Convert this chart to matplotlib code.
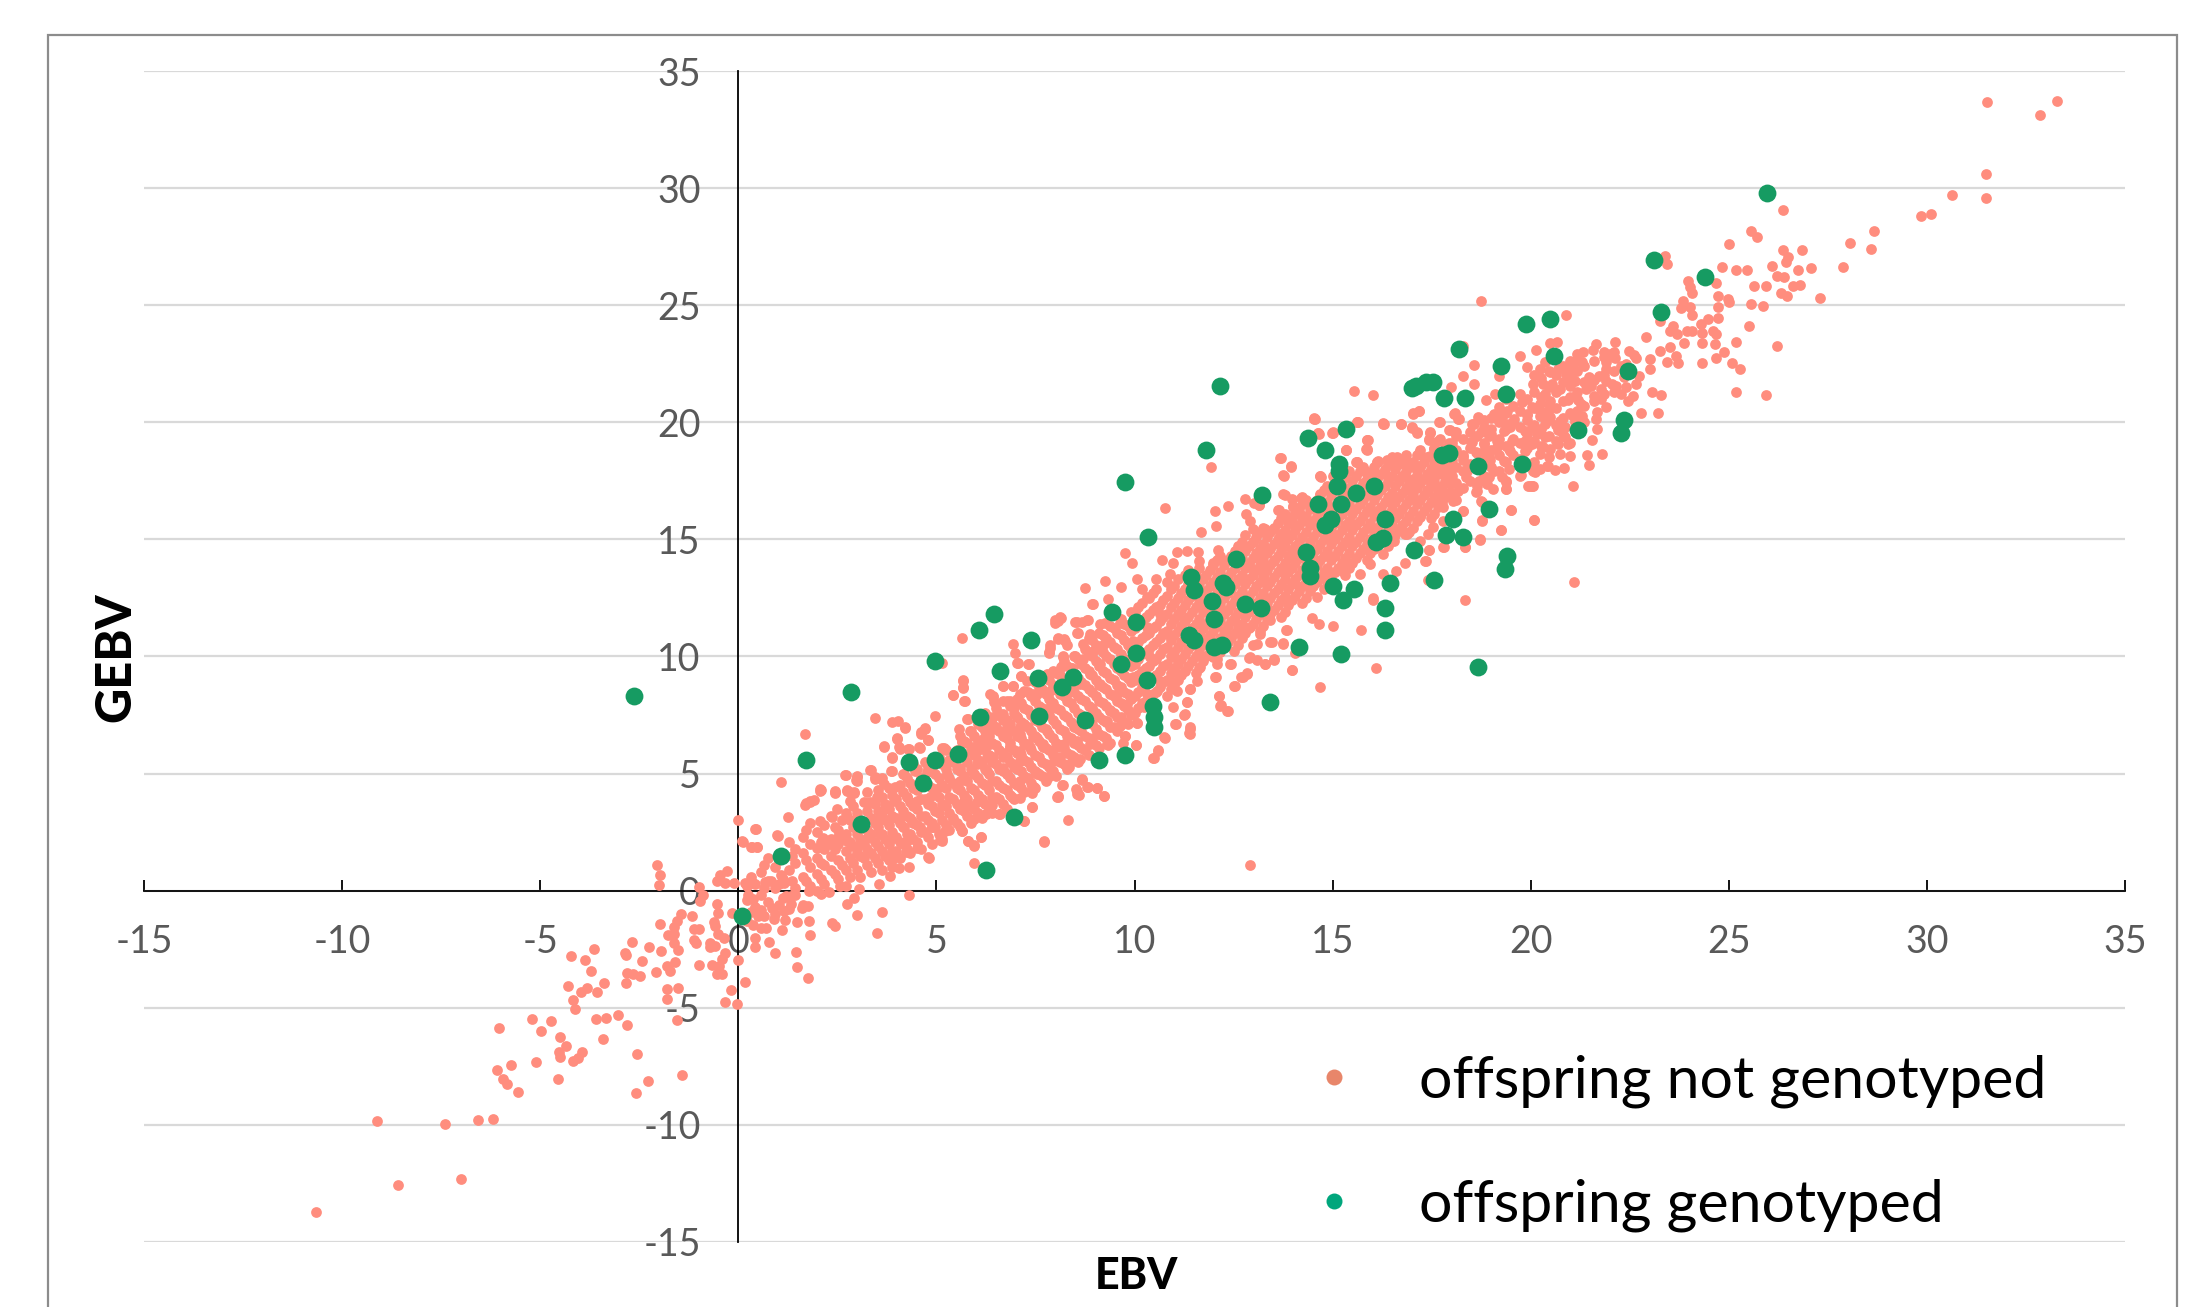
#!/usr/bin/env python3

import matplotlib
matplotlib.use("Agg")
import matplotlib.pyplot as plt
from matplotlib.lines import Line2D
from matplotlib.patches import Rectangle

# values, (EBV, GEBV)

genotyped = [
	(-2.64,8.3),(0.09,-1.1),(1.08,1.47),(1.72,5.6),(2.85,8.5),(3.1,2.85),(4.3,5.5),(4.65,4.6),(4.97,5.6),(4.97,9.8),
	(5.54,5.85),(6.1,7.4),(6.07,11.15),(6.46,11.8),(6.25,0.88),(6.6,9.4),(6.96,3.15),(7.38,10.7),(7.56,9.07),(7.6,7.46),
	(8.16,8.7),(8.44,9.14),(8.76,7.28),(9.1,5.6),(9.43,11.9),(9.65,9.67),(9.75,17.45),(9.75,5.78),(10.03,11.47),(10.03,10.15),
	(10.35,15.1),(10.32,9.0),(10.46,7.87),(10.5,7.4),(10.5,7.0),(11.42,13.4),(11.49,12.85),(11.38,10.93),(11.49,10.7),(11.8,18.8),
	(11.95,12.37),(12.0,11.6),(12.0,10.4),(12.2,10.5),(12.16,21.55),(12.23,13.15),(12.3,12.95),(12.55,14.15),(12.8,12.25),(13.19,12.07),
	(13.22,16.9),(13.43,8.05),(14.14,10.4),(14.32,14.45),(14.39,19.35),(14.43,13.8),(14.43,13.45),(14.64,16.5),(14.8,18.8),(14.82,15.6),
	(14.95,15.85),(15.0,13.0),(15.17,18.2),(15.17,17.9),(15.1,17.3),(15.2,16.5),(15.2,10.1),(15.27,12.4),(15.35,19.7),(15.55,12.9),
	(15.6,17.0),(16.05,17.3),(16.1,14.9),(16.27,15.05),(16.33,15.85),(16.33,12.07),(16.33,11.15),(16.44,13.15),(17.0,21.45),(17.1,21.55),
	(17.36,21.7),(17.54,21.7),(17.05,14.55),(17.57,13.25),(17.8,21.05),(17.75,18.6),(17.93,18.7),(17.86,15.2),(18.03,15.85),(18.28,15.1),
	(18.18,23.15),(18.35,21.05),(18.67,18.15),(18.67,9.55),(18.96,16.3),(19.24,22.4),(19.38,21.2),(19.35,13.75),(19.4,14.3),(19.77,18.2),
	(19.88,24.2),(20.48,24.4),(20.58,22.85),(21.2,19.65),(22.28,19.55),(22.36,20.1),(22.46,22.2),(23.1,26.95),(23.3,24.7),(24.4,26.2),
	(25.97,29.8),
]

low_tail = [
	(-10.67,-13.7),(-8.58,-12.56),(-7.01,-12.3),(-9.11,-9.85),(-7.4,-9.98),(-6.58,-9.8),(-6.19,-9.75),(-5.55,-8.6),(-5.84,-8.27),(-5.93,-8.05),
	(-6.1,-7.65),(-5.73,-7.45),(-5.1,-7.3),(-6.05,-5.87),(-5.21,-5.47),(-4.97,-5.98),(-4.74,-5.56),(-4.5,-6.24),(-4.35,-6.65),(-4.53,-6.87),
	(-4.5,-7.1),(-4.54,-8.02),(-4.18,-7.29),(-4.04,-7.13),(-3.94,-6.9),(-3.42,-6.33),(-3.59,-5.49),(-3.35,-5.42),(-3.04,-5.31),(-2.81,-5.73),
	(-2.55,-6.98),(-2.27,-8.13),(-2.57,-8.65),(-1.42,-7.89),(-1.54,-5.5),(-4.13,-5.04),(-4.16,-4.65),(-4.29,-4.07),(-3.96,-4.33),(-3.82,-4.16),
	(-3.57,-4.33),(-3.38,-3.96),(-3.71,-3.45),(-3.87,-2.96),(-4.21,-2.78),(-3.63,-2.47),(-2.86,-2.67),(-2.83,-2.73),(-2.68,-2.18),(-2.25,-2.42),
	(-2.43,-3.0),(-1.94,-2.56),(-2.81,-3.53),(-2.65,-3.56),(-2.48,-3.65),(-2.84,-3.95),(-2.08,-3.47),(-1.81,-3.22),(-1.72,-3.45),(-1.6,-3.04),
	(-1.81,-4.18),(-1.51,-4.15),(-1.79,-4.64),(-0.98,-3.18),(-0.18,-4.22),(0.18,-3.89),(-0.33,-4.75),(-0.03,-4.82),(-0.53,-3.55),(-0.4,-3.56),
	(-0.66,-3.18),(-0.48,-3.22),(-0.4,-2.91),(-0.33,-2.64),(-0.01,-2.98),(-0.72,-2.4),(-0.59,-2.36),(-0.71,-2.22),(-1.52,-2.55),(-1.63,-2.24),
	(-1.11,-2.09),(-1.06,-2.22),(-1.78,-1.91),(-1.62,-1.85),(-1.97,-1.44),(-1.63,-1.56),(-1.54,-1.31),(-1.45,-1.0),(-1.17,-1.07),(-1.11,-1.64),
	(-0.98,-1.62),(-0.62,-1.33),(-0.53,-0.55),(-0.5,-0.96),(-0.59,-1.51),(-0.5,-1.85),(-0.37,-2.0),(-0.17,-0.95),(-0.97,-0.45),(-0.89,-0.18),
	(-0.98,0.15),(-2.01,0.25),(-1.97,0.67),(-2.05,1.11),(-0.54,0.4),(-0.46,0.67),(-0.28,0.84),(-0.33,0.31),(-0.1,0.31),(-0.01,3.04),
	(0.1,2.13),(0.44,2.65),(0.33,1.87),(0.48,1.87),(0.98,2.38),(1.26,3.13),(1.69,6.67),(1.08,4.65),(1.7,3.75),(1.81,3.82),
	(1.92,3.89),(2.07,4.33),(2.43,4.24),(2.7,4.96),(2.97,4.73),(3.0,4.91),(2.74,4.31),(2.92,4.22),(3.5,-1.82),(3.63,-0.91),
	(3.0,-1.04),(2.43,-1.49),(2.36,-1.36),(2.74,-0.55),(2.91,-0.31),(1.81,-1.89),(1.78,-1.29),(1.75,-3.73),(1.48,-3.24),(1.45,-2.62),
	(0.93,-2.67),(0.77,-2.2),(0.42,-2.4),(0.42,-2.04),(0.69,-1.58),(1.11,-1.69),(0.89,-1.22),(1.17,-1.27),(1.47,-1.35),(0.57,-0.84),
	(0.85,-0.73),(1.15,-0.85),(0.37,-1.45),(0.5,-1.09),(1.6,-0.76),(1.76,-0.67),(1.34,-0.55),(1.21,-0.24),(0.37,-0.36),(0.24,-0.18),
	(0.18,0.33),(0.37,0.33),(0.67,0.36),(0.82,0.4),(1.08,0.69),(1.15,0.31),(1.34,-0.24),(1.79,0.0),(2.08,-0.13),(2.28,-0.07),
	(3.05,0.09),(2.56,0.22),
]

band_edges = [
	(0.43,2.62),(0.12,2.1),(0.34,1.85),(0.47,1.85),(0.99,2.35),(1.69,3.67),(1.8,3.77),(2.09,4.3),(2.45,4.2),(2.72,4.92),
	(2.99,4.84),(2.99,4.67),(2.82,4.2),(3.46,7.38),(3.89,7.2),(4.02,7.23),(4.2,6.94),(4.01,6.49),(3.69,6.15),(3.88,5.68),
	(3.34,5.16),(3.44,4.84),(3.87,5.12),(3.61,4.77),(3.54,3.98),(4.06,6.12),(4.28,6.05),(4.57,6.12),(4.62,6.71),(4.71,6.9),
	(4.79,6.43),(4.97,7.44),(5.13,9.74),(5.65,10.8),(5.43,8.36),(5.68,8.99),(5.67,8.65),(5.72,8.08),(5.58,6.9),(5.81,7.33),
	(5.84,6.83),(5.64,6.4),(5.21,6.05),(6.94,10.53),(6.99,10.17),(7.05,9.72),(7.14,9.17),(7.33,9.67),(6.69,8.75),(6.93,8.75),
	(6.43,8.32),(6.46,8.04),(8.0,11.42),(8.15,11.66),(8.06,11.52),(7.87,10.38),(7.84,10.17),(8.06,10.78),(8.23,10.74),(8.29,10.48),
	(8.2,9.99),(8.15,9.57),(8.42,9.49),(8.74,12.94),(9.25,13.23),(9.65,12.97),(8.94,12.26),(9.32,12.45),(8.51,11.49),(8.68,11.49),
	(8.83,11.55),(8.57,11.0),(9.25,11.45),(9.77,14.4),(9.94,13.98),(10.77,16.34),(10.69,14.11),(10.54,13.3),(10.06,13.3),(10.2,12.87),
	(10.32,12.52),(11.08,14.48),(11.33,14.52),(10.96,13.98),(11.61,14.47),(11.67,15.32),(11.92,18.11),(12.02,16.22),(12.36,16.44),(12.05,15.58),
	(12.12,14.55),(11.97,14.01),(11.63,14.08),(10.9,13.51),(12.8,16.71),(12.82,16.07),(13.02,16.57),(13.13,16.47),(13.64,16.26),(13.7,18.46),
	(13.96,18.11),(13.78,17.71),(13.81,16.9),(13.9,15.93),(14.01,16.39),(14.2,16.78),(14.55,20.16),(14.65,19.49),(15.0,19.53),(15.64,20.03),
	(16.29,19.94),(15.9,19.23),(15.86,18.8),(15.34,18.8),(15.61,18.31),(14.71,17.68),(15.84,17.89),(4.31,-0.18),(3.55,0.28),(3.83,0.64),
	(4.81,1.39),(4.06,0.95),(4.31,1.0),(4.23,1.64),(3.89,1.31),(5.96,1.17),(5.81,2.13),(6.12,2.3),(5.94,1.92),(5.13,2.13),
	(4.9,2.7),(5.64,2.56),(7.22,2.99),(7.71,2.1),(8.32,3.02),(7.42,3.58),(6.37,3.63),(6.26,3.27),(6.6,3.27),(8.06,3.98),
	(8.68,4.77),(8.55,4.27),(8.59,4.1),(8.83,4.41),(9.05,4.37),(9.23,4.03),(8.2,4.51),(7.81,4.84),(7.55,5.01),(7.44,4.41),
	(8.34,5.29),(10.48,5.65),(10.6,6.0),(10.03,6.23),(9.33,6.22),(9.75,6.61),(10.77,6.54),(11.39,6.9),(11.39,6.69),(10.07,7.18),
	(11.05,7.11),(11.27,7.54),(11.33,8.04),(12.35,7.68),(12.18,7.94),(12.14,8.32),(11.41,8.6),(12.91,1.11),(12.05,9.13),(12.54,8.75),
	(12.85,9.25),(12.68,9.13),(12.44,9.67),(12.91,9.96),(13.3,9.67),(13.53,9.89),(13.98,9.42),(14.68,8.71),(16.09,9.53),(14.04,10.17),
	(13.75,10.55),(13.84,11.12),(13.47,10.6),(13.08,10.53),(15.02,11.31),(15.72,11.14),(14.49,11.66),(14.66,11.38),(16.03,12.42),(21.1,13.2),
]

high_tail = [
	(31.52,33.66),(33.28,33.72),(32.85,33.1),(31.5,30.59),(31.5,29.59),(30.64,29.7),(30.11,28.89),(29.85,28.82),(28.66,28.18),(28.06,27.65),
	(28.6,27.38),(27.88,26.63),(26.37,29.08),(25.56,28.18),(25.71,27.93),(25.0,27.63),(26.36,27.37),(26.85,27.34),(26.49,27.04),(26.45,26.83),
	(26.09,26.69),(26.75,26.52),(27.07,26.57),(26.22,26.26),(26.39,26.19),(25.63,25.82),(25.95,25.82),(26.61,25.83),(26.8,25.88),(26.32,25.53),
	(26.46,25.41),(27.3,25.32),(24.84,26.64),(25.17,26.49),(25.45,26.49),(25.56,25.06),(25.86,24.98),(25.51,24.12),(26.22,23.24),(25.19,23.41),
	(25.18,21.31),(25.95,21.15),(24.87,22.99),(25.07,22.55),(25.28,22.26),(24.68,22.73),(24.32,22.53),(23.39,27.11),(23.45,26.76),(23.97,26.05),
	(24.03,25.76),(24.08,25.52),(24.68,25.93),(24.74,25.38),(24.97,25.26),(25.01,25.12),(24.74,24.91),(23.84,25.19),(23.79,24.86),(24.01,24.91),
	(24.08,24.58),(23.27,24.34),(24.72,24.44),(24.48,24.41),(24.31,24.2),(23.6,24.12),(23.52,23.88),(23.68,23.77),(23.94,23.88),(24.07,23.91),
	(24.61,23.91),(24.33,23.8),(24.68,23.77),(24.64,23.34),(24.32,23.37),(23.86,23.4),(22.91,23.63),(22.14,23.44),(23.26,23.03),(23.52,23.2),
	(23.67,22.84),(22.67,22.73),(23.0,22.7),(23.71,22.52),(23.0,22.27),(23.45,22.56),(18.75,25.16),(20.9,24.59),(20.66,23.44),(20.49,23.37),
	(20.14,23.1),(19.72,22.84),(19.91,22.35),(18.58,22.46),(18.3,23.27),(18.3,21.99),(19.2,21.99),(17.99,21.52),(18.58,21.63),(15.55,21.32),
	(16.01,21.16),(18.87,20.94),(19.1,21.21),(19.78,20.88),(14.54,20.15),(15.62,20.03),(15.0,19.57),(14.63,19.53),(16.28,19.94),(16.72,19.93),
	(17.17,20.47),(17.04,20.35),(17.68,20.0),(18.09,20.38),(18.17,20.14),(17.0,19.78),(17.12,19.57),(17.46,19.57),(17.44,19.29),(17.94,19.67),
	(18.11,19.6),(15.88,19.26),(15.85,18.86),(15.34,18.82),(15.6,18.29),(14.69,17.69),(16.14,18.36),(16.5,18.5),(16.82,18.29),(15.83,17.9),
	(17.2,18.64),(17.55,18.86),(17.72,19.29),(18.49,19.14),(22.65,21.63),(22.73,21.99),(22.59,21.11),(22.45,20.92),(23.07,21.28),(23.3,21.15),
	(22.78,20.38),(23.21,20.38),(21.91,20.64),(21.67,20.42),(21.65,20.14),(21.68,19.71),(21.55,19.26),(21.8,18.64),(21.42,18.62),(21.47,18.17),
	(20.98,18.57),(20.85,18.05),(20.62,17.96),(20.44,18.13),(21.08,17.26),(20.04,17.29),(19.94,17.29),(19.74,17.72),(20.1,17.89),(19.5,16.25),
	(20.09,15.83),(19.24,15.4),(18.78,15.8),(18.73,14.99),(18.34,14.66),(17.79,14.66),(17.43,14.56),(17.34,14.09),(19.37,17.15),(19.37,17.48),
	(18.62,17.01),(18.75,16.65),
]

upper_cloud = [
	(21.33,22.99),(21.56,23.09),(21.66,23.34),(21.84,22.99),(21.99,22.91),(22.14,22.73),(21.91,22.56),(21.91,22.27),(22.49,23.06),(22.61,22.89),
	(22.29,22.42),(22.35,21.92),(22.16,21.56),(21.91,21.78),(21.46,21.92),(21.72,21.99),(21.53,21.56),(21.78,21.42),(21.39,21.42),(21.59,21.14),
	(21.78,21.0),(22.29,21.2),(22.04,21.63),(21.3,22.56),(21.13,22.56),(20.93,22.42),(20.68,22.27),(20.49,22.13),(20.36,22.56),(20.23,22.27),
	(21.13,22.2),(20.88,22.06),(21.13,21.78),(20.98,21.56),(20.75,21.42),(20.3,21.63),(20.07,21.63),(20.55,21.63),(20.36,21.21),(20.49,20.92),
	(20.43,20.5),(20.94,20.95),(21.2,20.95),(21.26,20.78),(20.23,20.78),(20.04,20.64),(19.91,20.35),(20.23,20.28),(20.49,20.21),(20.36,19.93),
	(20.75,20.07),(21.07,20.28),(21.3,20.28),(20.87,19.78),(20.68,19.67),(21.13,20.0),(20.04,19.78),(19.85,19.64),(20.17,19.5),(20.36,19.36),
	(19.85,19.21),(19.52,19.21),(19.33,19.64),(19.2,20.64),(19.27,20.28),(19.07,20.35),(19.59,20.14),(19.4,19.93),(19.01,19.71),(18.69,20.14),
	(18.56,19.93),(18.75,19.57),(18.94,19.43),(18.82,19.07),(19.14,18.93),(19.46,18.86),(19.85,18.79),(20.23,18.64),(20.49,18.86),(20.75,18.64),
	(20.94,19.07),(20.87,19.36),(20.68,19.07),(20.04,19.07),(19.72,18.43),(19.33,18.36),(18.94,18.5),(18.62,18.72),(18.3,18.5),(18.04,18.64),
	(18.43,18.15),(19.07,17.93),(19.46,18.0),(19.27,17.65),(18.94,17.65),(18.69,17.5),(18.37,17.65),(18.0,18.22),(17.6,18.15),(17.2,18.15),
	(17.85,17.65),(17.53,17.65),(17.14,17.72),(16.82,17.72),(18.17,17.08),(17.85,16.94),(17.4,17.08),(18.3,16.23),(18.04,16.65),(17.79,16.37),
	(17.79,15.8),(17.53,15.51),(17.4,15.23),(17.2,14.95),(16.82,15.23),(16.5,14.95),
]

# closer reading of the band, lower part
band_lower = [
	(5.77,7.33),(6.1,6.4),(6.44,6.9),(6.61,7.54),(6.44,8.25),(6.69,8.11),(6.95,7.83),(7.2,8.54),(7.53,8.4),(7.11,6.97),
	(6.78,6.76),(6.36,6.26),(6.02,5.97),(6.44,5.69),(6.86,6.12),(7.28,6.26),(7.7,6.12),(7.96,5.55),(7.79,6.83),(7.53,6.54),
	(7.11,5.55),(6.69,5.26),(6.27,5.12),(5.94,4.98),(5.6,4.69),(5.27,4.98),(5.1,4.41),(4.84,3.98),(4.5,3.84),(4.26,3.98),
	(3.96,4.41),(3.71,3.55),(3.5,3.98),(3.58,3.12),(3.33,3.77),(3.92,3.84),(4.09,3.12),(4.38,2.98),(4.59,2.7),(4.26,2.13),
	(4.51,1.84),(3.92,2.27),(4.17,2.7),(3.58,2.41),(3.25,2.27),(2.99,1.84),(2.74,2.13),(2.49,2.27),(2.36,3.13),(2.49,3.48),
	(2.74,3.13),(2.83,3.84),(2.91,4.19),(2.74,4.26),(2.45,4.19),(2.07,4.26),(2.32,1.98),(1.98,1.84),(2.15,2.27),(2.07,2.98),
	(5.94,3.05),(5.64,2.55),(5.43,3.01),(5.22,2.55),(4.89,2.7),(5.1,2.16),(5.81,2.13),(6.12,2.3),(5.94,1.96),(4.8,1.42),
	(5.69,3.84),(6.02,3.77),(5.77,3.7),(6.4,3.65),(6.27,3.3),(6.57,3.27),(6.78,3.48),(7.41,3.58),(6.9,3.98),(7.11,3.95),
	(7.41,4.19),(7.47,4.44),(8.04,4.01),(7.54,5.0),(7.8,4.83),(7.71,2.11),(7.2,2.98),(3.33,5.15),(3.46,4.76),(3.67,4.55),
	(3.63,4.81),(3.85,5.12),(3.88,5.69),(3.68,6.16),(4.0,6.52),(4.07,6.06),(4.3,6.06),(4.58,6.09),(4.2,6.97),(4.62,6.76),
	(4.7,6.93),(4.78,6.43),(5.2,6.09),(5.64,6.37),(5.42,8.37),(5.66,8.68),(5.68,8.97),(5.7,8.08),(4.17,4.98),(4.47,5.12),
	(4.76,5.05),(5.27,5.47),(5.6,5.26),(6.02,5.4),(6.27,5.69),(5.94,6.12),(6.19,6.54),(6.19,7.11),(6.44,7.4),(6.36,8.4),
	(6.68,8.75),(6.93,8.75),(7.03,9.72),(7.31,9.68),(7.13,9.18),(7.8,9.25),(7.96,8.61),(8.12,8.82),(7.87,7.83),(7.53,9.11),
	(7.28,8.97),
]

# closer reading of the band, middle part
band_middle = [
	(8.92,12.25),(8.0,11.54),(8.12,11.68),(8.54,11.46),(8.8,11.56),(9.13,11.39),(9.64,11.42),(8.08,10.75),(8.25,10.68),(8.56,11.01),
	(8.88,10.97),(9.22,10.54),(7.87,10.47),(7.83,10.18),(8.19,10.0),(8.17,9.61),(8.42,9.47),(8.5,10.04),(8.71,9.9),(8.71,10.54),
	(8.96,10.25),(9.13,9.68),(8.88,9.26),(8.63,8.83),(8.29,8.4),(7.87,8.54),(7.45,8.4),(7.11,8.4),(6.86,8.12),(6.69,7.55),
	(7.03,7.4),(6.78,6.98),(7.11,6.69),(7.45,6.55),(7.7,6.26),(7.37,6.12),(7.11,5.98),(6.86,6.12),(6.69,5.7),(7.03,5.41),
	(6.78,4.98),(7.11,4.7),(7.41,4.41),(7.54,5.01),(7.81,4.84),(8.17,4.53),(8.06,4.03),(8.53,4.34),(8.56,4.13),(8.68,4.74),
	(8.81,4.41),(9.05,4.37),(9.23,4.04),(8.29,5.3),(8.42,5.55),(8.63,5.62),(8.12,5.7),(8.04,6.12),(8.21,6.26),(8.54,6.41),
	(8.88,6.26),(9.05,6.69),(9.3,6.26),(9.76,6.62),(9.72,6.29),(10.03,6.24),(10.06,7.16),(9.64,7.05),(9.3,7.26),(8.96,7.69),
	(9.39,7.69),(9.81,7.97),(10.23,7.83),(10.98,7.83),(11.03,7.12),(11.24,7.52),(11.32,8.04),(11.39,6.98),(11.38,6.72),(10.46,5.65),
	(10.59,5.98),(10.74,6.55),(11.4,8.62),(11.07,8.54),(10.9,8.97),(11.57,8.97),(11.15,9.26),(11.66,9.54),(10.56,8.54),(10.65,8.97),
	(10.31,8.4),(12.03,9.14),(12.52,8.76),(12.75,9.14),(12.83,9.28),(12.41,9.68),(12.08,9.68),(11.99,9.97),(12.88,9.94),(13.09,9.83),
	(13.3,9.68),(13.51,9.85),(13.97,9.43),(12.14,8.33),(12.16,7.9),(12.33,7.69),(13.76,10.57),(13.42,10.61),(13.0,10.47),(13.83,11.14),
	(13.17,10.97),(12.5,10.25),(11.66,10.97),(10.82,10.97),(10.98,9.97),(10.39,9.97),(9.97,9.11),(9.55,8.4),(9.13,8.83),(9.55,9.54),
	(9.97,10.68),(10.31,11.25),(10.65,11.82),(11.24,11.54),(12.5,11.54),(12.33,10.97),(12.92,11.25),(13.42,11.54),
]

# closer reading of the band, upper part
band_upper = [
	(14.54,20.17),(15.61,20.03),(16.28,19.96),(16.72,19.93),(17.04,20.39),(17.17,20.47),(17.0,19.76),(17.14,19.55),(17.7,20.0),(17.46,19.55),
	(17.44,19.26),(17.97,19.65),(18.09,19.58),(18.07,20.36),(18.18,20.15),(18.51,19.93),(18.81,20.08),(18.68,20.22),(18.51,19.15),(14.64,19.53),
	(14.98,19.55),(15.86,19.26),(15.86,18.84),(15.33,18.82),(15.61,18.32),(15.82,17.9),(16.12,18.3),(16.37,18.37),(16.62,18.51),(16.79,18.3),
	(17.19,18.68),(16.12,17.8),(16.41,17.65),(16.75,17.72),(17.13,18.15),(17.46,18.58),(13.68,18.48),(13.94,18.12),(13.76,17.74),(14.69,17.7),
	(15.02,17.72),(13.76,16.94),(13.97,16.73),(14.22,16.8),(14.01,16.44),(13.63,16.27),(13.89,15.94),(14.69,16.94),(13.13,16.49),(12.92,15.8),
	(13.3,15.45),(13.0,15.45),(13.34,15.23),(13.68,15.23),(14.01,15.66),(14.18,16.09),(14.43,15.66),(13.0,14.88),(13.3,14.66),(13.76,14.8),
	(13.17,14.24),(13.51,14.09),(13.93,14.24),(12.92,13.81),(13.26,13.52),(13.76,13.66),(14.18,12.95),(14.6,12.53),(16.02,12.49),(18.34,12.43),
	(18.72,15.02),(18.34,14.66),(17.8,14.66),(17.44,14.56),(17.35,14.06),(16.83,13.99),(16.6,13.67),(17.42,13.27),(19.25,15.4),(19.5,16.27),
	(20.09,15.84),(18.78,15.83),(18.3,16.23),(18.77,16.59),(18.64,17.08),(19.38,17.15),(19.38,17.44),(19.99,17.3),(20.07,17.3),(19.75,17.77),
	(20.07,17.94),(20.24,18.01),(20.41,18.15),(18.89,17.37),(19.06,17.15),(18.39,17.94),(17.97,17.37),(17.63,16.8),(17.21,15.94),(16.87,15.23),
	(16.54,14.95),(16.28,14.38),(15.95,13.95),(16.28,13.52),(15.7,13.52),(15.27,13.67),(14.94,14.24),(15.02,15.23),(15.53,15.66),(15.86,16.23),
	(16.45,16.66),(16.96,17.08),(17.46,17.51),(17.97,17.94),(18.3,18.37),(18.81,18.79),(19.14,19.22),(19.48,19.79),(19.9,20.08),(20.24,20.5),
	(19.4,20.5),(18.98,18.37),(19.48,18.79),(19.98,19.08),(20.32,18.94),(19.9,19.5),
]

# the solid core of the band, EBV column and the GEBV values estimated in it
core_columns = [
	(0.22,[-1.3,-0.4,0.2]),(0.41,[-0.7,0.3]),(0.58,[-1.6,-0.2,0.8]),(0.75,[-0.5,0.4,1.4]),(0.93,[-1.0,0.1,1.0]),
	(1.12,[-0.3,0.5,1.5]),(1.27,[-0.8,0.9,2.1]),(1.44,[-0.2,0.1,1.2,1.8]),(1.63,[-0.6,0.6,1.6,2.3]),(1.81,[0.2,1.0,2.0,2.9]),
	(1.98,[0.0,0.7,1.4,2.5]),(2.17,[0.3,1.1,1.8,2.8]),(2.35,[0.9,1.5,2.2,3.2]),(2.52,[0.5,1.3,2.0,2.6]),(2.71,[0.2,0.9,1.7,2.4,3.3]),
	(2.9,[1.2,1.9,2.7,3.6]),(3.08,[0.6,1.5,2.2,3.0]),(3.26,[1.1,1.8,2.6,3.4,4.2]),(3.44,[1.4,2.1,2.9,3.7]),(3.62,[0.9,1.7,2.4,3.2,4.0]),
	(3.8,[1.3,2.0,2.8,3.5,4.4]),(3.98,[1.7,2.3,3.1,3.9]),(4.16,[2.0,2.7,3.4,4.2,5.0]),(4.33,[1.6,2.4,3.1,3.8,4.6]),(4.51,[2.1,2.8,3.5,4.3,5.2]),
	(4.7,[2.5,3.2,3.9,4.7,5.5]),(4.88,[2.0,2.9,3.6,4.4,5.1]),(5.07,[2.4,3.3,4.0,4.8,5.7]),(5.24,[2.8,3.6,4.4,5.2,6.0]),(5.43,[3.1,3.9,4.6,5.5]),
	(5.6,[2.7,3.5,4.3,5.1,5.9,6.6]),(5.78,[3.2,3.9,4.7,5.5,6.3]),(5.96,[3.5,4.3,5.0,5.8,6.6]),(6.14,[3.1,3.9,4.6,5.4,6.2,7.0]),(6.32,[3.6,4.3,5.0,5.8,6.6,7.4]),
	(6.5,[4.0,4.7,5.4,6.2,7.0,7.8]),(6.68,[3.7,4.4,5.1,5.9,6.6,7.3]),(6.86,[4.1,4.8,5.5,6.3,7.1,7.9]),(7.04,[4.5,5.2,5.9,6.6,7.4,8.2]),(7.22,[4.2,4.9,5.6,6.3,7.1,7.8]),
	(7.4,[4.6,5.3,6.0,6.8,7.5,8.3]),(7.58,[5.0,5.7,6.4,7.2,7.9,8.7]),(7.76,[4.7,5.4,6.1,6.9,7.6,8.4]),(7.94,[5.1,5.8,6.5,7.3,8.0,8.8,9.4]),(8.12,[5.5,6.2,6.9,7.7,8.4,9.2]),
	(8.3,[5.2,5.9,6.6,7.4,8.1,8.9,9.6]),(8.48,[5.7,6.3,7.0,7.8,8.5,9.3,10.0]),(8.66,[6.1,6.8,7.5,8.2,8.9,9.7]),(8.84,[5.8,6.5,7.2,7.9,8.6,9.4,10.1,10.8]),(9.02,[6.2,6.9,7.6,8.3,9.0,9.8,10.5]),
	(9.2,[6.6,7.3,8.0,8.7,9.4,10.2,10.9]),(9.38,[6.3,7.0,7.7,8.4,9.1,9.9,10.6,11.3]),(9.56,[6.8,7.4,8.1,8.8,9.5,10.3,11.0]),(9.74,[7.2,7.9,8.5,9.2,9.9,10.7,11.4]),(9.92,[7.5,8.2,8.9,9.6,10.3,11.1,11.9]),
	(10.1,[7.8,8.5,9.2,9.9,10.6,11.4,12.1]),(10.28,[8.1,8.8,9.5,10.2,10.9,11.7]),(10.46,[8.4,9.1,9.8,10.5,11.2,12.0,12.7]),(10.64,[8.7,9.4,10.1,10.8,11.5,12.2]),(10.82,[8.3,9.0,9.7,10.4,11.1,11.8,12.6,13.2]),
	(11.0,[8.8,9.5,10.2,10.9,11.6,12.3,13.0]),(11.18,[9.2,9.9,10.6,11.3,12.0,12.7]),(11.36,[9.6,10.3,11.0,11.7,12.4,13.1,13.7]),(11.54,[9.3,10.0,10.7,11.4,12.1,12.8,13.5]),(11.72,[9.8,10.5,11.2,11.9,12.6,13.3]),
	(11.9,[10.2,10.9,11.6,12.3,13.0,13.7]),(12.08,[9.9,10.6,11.3,12.0,12.7,13.4,14.1]),(12.26,[10.4,11.1,11.8,12.5,13.2,13.9]),(12.44,[10.8,11.5,12.2,12.9,13.6,14.3]),(12.62,[10.5,11.2,11.9,12.6,13.3,14.0,14.7]),
	(12.8,[11.0,11.7,12.4,13.1,13.8,14.5,15.2]),(12.98,[11.4,12.1,12.8,13.5,14.2,14.9]),(13.16,[11.1,11.8,12.5,13.2,13.9,14.6,15.3]),(13.34,[11.6,12.3,13.0,13.7,14.4,15.1]),(13.52,[12.0,12.7,13.4,14.1,14.8,15.5]),
	(13.7,[11.7,12.4,13.1,13.8,14.5,15.2,15.9]),(13.88,[12.2,12.9,13.6,14.3,15.0,15.7]),(14.06,[12.6,13.3,14.0,14.7,15.4,16.1]),(14.24,[12.3,13.0,13.7,14.4,15.1,15.8,16.5]),(14.42,[12.8,13.5,14.2,14.9,15.6,16.3]),
	(14.6,[13.2,13.9,14.6,15.3,16.0,16.7]),(14.78,[12.9,13.6,14.3,15.0,15.7,16.4,17.1]),(14.96,[13.4,14.1,14.8,15.5,16.2,16.9]),(15.14,[13.8,14.5,15.2,15.9,16.6,17.3]),(15.32,[13.5,14.2,14.9,15.6,16.3,17.0,17.7]),
	(15.5,[14.0,14.7,15.4,16.1,16.8,17.5]),(15.68,[14.4,15.1,15.8,16.5,17.2,17.9]),(15.86,[14.1,14.8,15.5,16.2,16.9,17.6]),(16.04,[14.6,15.3,16.0,16.7,17.4,18.1]),(16.22,[15.0,15.7,16.4,17.1,17.8]),
	(16.4,[14.7,15.4,16.1,16.8,17.5,18.2]),(16.58,[15.2,15.9,16.6,17.3,18.0]),(16.76,[15.6,16.3,17.0,17.7,18.4]),(16.94,[15.3,16.0,16.7,17.4,18.1]),(17.12,[15.8,16.5,17.2,17.9,18.6]),
	(17.3,[16.2,16.9,17.6,18.3]),(17.48,[15.9,16.6,17.3,18.0]),(17.66,[16.4,17.1,17.8,18.5,19.2]),(17.84,[16.8,17.5,18.2,18.9]),(18.02,[17.0,17.7,18.4,19.1]),
]

# second pass over the same core, the spots the first columns left open
core_columns_2 = [
	(0.31,[-0.9,0.6]),(0.66,[-1.1,0.1,1.1]),(1.03,[-0.6,0.3,1.3]),(1.36,[0.4,1.5]),(1.72,[0.4,1.3,2.6]),
	(2.08,[0.5,1.2,2.1]),(2.44,[0.7,1.8,2.7]),(2.62,[1.1,2.3,3.0]),(2.81,[0.6,1.4,2.1,3.0]),(3.0,[0.9,1.6,2.4,3.3]),
	(3.17,[1.4,2.0,2.9,3.8]),(3.35,[0.8,1.6,2.4,3.1]),(3.53,[1.2,1.9,2.7,3.4,4.3]),(3.71,[1.5,2.2,3.0,3.7]),(3.89,[1.0,1.7,2.5,3.2,4.1]),
	(4.07,[1.4,2.1,2.9,3.6,4.5]),(4.25,[1.8,2.4,3.2,4.0,4.8]),(4.42,[2.2,2.9,3.6,4.4,5.4]),(4.6,[1.8,2.5,3.2,3.9,4.8]),(4.79,[2.3,3.0,3.7,4.5,5.3]),
	(4.97,[2.7,3.4,4.2,5.0,5.6]),(5.15,[2.2,3.0,3.7,4.5,5.4,6.1]),(5.33,[2.6,3.3,4.0,4.8,5.6]),(5.51,[2.9,3.7,4.4,5.2,6.0]),(5.69,[3.4,4.1,4.9,5.7,6.4]),
	(5.87,[2.9,3.6,4.4,5.2,6.0,6.8]),(6.05,[3.3,4.1,4.8,5.6,6.4,7.1]),(6.23,[3.7,4.5,5.2,6.0,6.8,7.6]),(6.41,[3.3,4.0,4.7,5.5,6.3,7.1]),(6.59,[3.9,4.5,5.2,6.0,6.8,7.5]),
	(6.77,[4.3,5.0,5.7,6.5,7.3,8.1]),(6.95,[3.9,4.6,5.3,6.0,6.8,7.6]),(7.13,[4.4,5.1,5.8,6.5,7.2,8.0]),(7.31,[4.8,5.5,6.2,7.0,7.7,8.5]),(7.49,[4.4,5.1,5.8,6.6,7.3,8.1,8.9]),
	(7.67,[4.9,5.5,6.2,7.0,7.8,8.6]),(7.85,[5.3,6.0,6.7,7.5,8.2,9.0]),(8.03,[4.9,5.6,6.3,7.1,7.8,8.6,9.3]),(8.21,[5.4,6.1,6.8,7.5,8.3,9.0,9.8]),(8.39,[5.8,6.5,7.2,8.0,8.7,9.5]),
	(8.57,[5.5,6.2,6.9,7.6,8.3,9.1,9.9]),(8.75,[6.0,6.6,7.3,8.1,8.8,9.5,10.3]),(8.93,[6.4,7.1,7.8,8.5,9.2,10.0,10.7]),(9.11,[6.1,6.7,7.4,8.1,8.8,9.6,10.3,11.0]),(9.29,[6.5,7.2,7.9,8.6,9.3,10.0,10.8]),
	(9.47,[7.0,7.6,8.3,9.0,9.7,10.4,11.2]),(9.65,[7.4,8.0,8.7,9.4,10.1,10.9,11.6]),(9.83,[7.1,7.7,8.4,9.1,9.8,10.5,11.3]),(10.01,[7.6,8.3,9.0,9.7,10.4,11.2,11.9]),(10.19,[8.0,8.7,9.4,10.1,10.8,11.5,12.3]),
	(10.37,[8.3,9.0,9.6,10.3,11.0,11.8,12.5]),(10.55,[8.5,9.2,9.9,10.6,11.3,12.1,12.9]),(10.73,[8.9,9.6,10.3,11.0,11.7,12.4]),(10.91,[8.6,9.3,10.0,10.7,11.4,12.1,12.9]),(11.09,[9.0,9.7,10.4,11.1,11.8,12.5,13.3]),
	(11.27,[9.4,10.1,10.8,11.5,12.2,12.9,13.5]),(11.45,[9.8,10.5,11.2,11.9,12.6,13.3]),(11.63,[9.5,10.2,10.9,11.6,12.3,13.0,13.8]),(11.81,[10.0,10.7,11.4,12.1,12.8,13.5]),(11.99,[10.4,11.1,11.8,12.5,13.2,13.9]),
	(12.17,[10.2,10.8,11.5,12.2,12.9,13.6,14.3]),(12.35,[10.6,11.3,12.0,12.7,13.4,14.1]),(12.53,[11.0,11.7,12.4,13.1,13.8,14.5]),(12.71,[10.8,11.4,12.1,12.8,13.5,14.2,14.9]),(12.89,[11.2,11.9,12.6,13.3,14.0,14.7]),
	(13.07,[11.6,12.3,13.0,13.7,14.4,15.1]),(13.25,[11.3,12.0,12.7,13.4,14.1,14.8,15.5]),(13.43,[11.8,12.5,13.2,13.9,14.6,15.3]),(13.61,[12.2,12.9,13.6,14.3,15.0,15.7]),(13.79,[11.9,12.6,13.3,14.0,14.7,15.4,16.1]),
	(13.97,[12.4,13.1,13.8,14.5,15.2,15.9]),(14.15,[12.8,13.5,14.2,14.9,15.6,16.3]),(14.33,[12.5,13.2,13.9,14.6,15.3,16.0,16.7]),(14.51,[13.0,13.7,14.4,15.1,15.8,16.5]),(14.69,[13.4,14.1,14.8,15.5,16.2,16.9]),
	(14.87,[13.2,13.8,14.5,15.2,15.9,16.6,17.3]),(15.05,[13.6,14.3,15.0,15.7,16.4,17.1]),(15.23,[14.0,14.7,15.4,16.1,16.8,17.5]),(15.41,[13.8,14.4,15.1,15.8,16.5,17.2,17.9]),(15.59,[14.2,14.9,15.6,16.3,17.0,17.7]),
	(15.77,[14.6,15.3,16.0,16.7,17.4,18.1]),(15.95,[14.4,15.0,15.7,16.4,17.1,17.8]),(16.13,[14.8,15.5,16.2,16.9,17.6,18.3]),(16.31,[15.2,15.9,16.6,17.3,18.0]),(16.49,[15.0,15.6,16.3,17.0,17.7,18.4]),
	(16.67,[15.4,16.1,16.8,17.5,18.2]),(16.85,[15.8,16.5,17.2,17.9,18.6]),(17.03,[15.5,16.2,16.9,17.6,18.3]),(17.21,[16.0,16.7,17.4,18.1,18.8]),(17.39,[16.4,17.1,17.8,18.5]),
	(17.57,[16.1,16.8,17.5,18.2,18.9]),(17.75,[16.6,17.3,18.0,18.7]),(17.93,[17.0,17.7,18.4,19.1]),(18.11,[16.7,17.4,18.1,18.8,19.4]),(18.29,[17.2,17.9,18.6,19.3]),
	(18.47,[17.5,18.2,18.9,19.6]),(18.65,[17.3,18.0,18.7,19.4]),(18.83,[17.7,18.4,19.1,19.8]),(19.01,[18.1,18.8,19.5,20.2]),(19.19,[17.9,18.6,19.3,20.0]),
	(19.37,[18.3,19.0,19.7,20.4,21.0]),(19.55,[18.6,19.3,20.0,20.7]),(19.73,[18.4,19.1,19.8,20.5,21.2]),(19.91,[18.9,19.6,20.3,21.0]),(20.09,[18.3,19.2,19.9,20.6,21.3,22.0]),
	(20.27,[19.0,19.7,20.4,21.1,21.9]),(20.45,[18.5,19.4,20.1,20.8,21.5,22.2]),(20.63,[19.2,19.9,20.6,21.3,22.0]),(20.81,[19.5,20.2,20.9,21.7,22.4]),(20.99,[19.1,20.4,21.1,21.9,22.6]),
	(21.17,[19.6,20.5,21.3,22.2,22.9]),(21.35,[20.0,20.7,21.7,22.4]),(21.6,[20.9,21.8,22.6]),(21.85,[21.2,22.0,22.8]),(22.1,[21.3,22.2,23.0]),(22.4,[21.5,22.5]),
]

ticks = [-15, -10, -5, 0, 5, 10, 15, 20, 25, 30, 35]

not_genotyped = low_tail + band_edges + high_tail + upper_cloud + band_lower + band_middle + band_upper
for x, ys in core_columns + core_columns_2:
	not_genotyped += [(x, y) for y in ys]

plt.rcParams["font.family"] = ["Lato", "DejaVu Sans"]
plt.rcParams["axes.unicode_minus"] = False

W, H = 2199, 1307
fig = plt.figure(figsize=(W / 100, H / 100), dpi=100)
ax = fig.add_axes([144 / W, 1 - 1242 / H, (2125 - 144) / W, (1242 - 71) / H])

fig.patches.append(Rectangle((48 / W, -0.1), (2177 - 48) / W, 1.1 - 35 / H, transform=fig.transFigure,
	fill=False, edgecolor="#8c8c8c", linewidth=1.6))

ax.scatter(*zip(*not_genotyped), s=60, color="#ff8d7e", linewidths=0, zorder=3)
ax.scatter(*zip(*genotyped), s=165, color="#169b62", linewidths=0, zorder=4)

ax.set_xlim(-15, 35)
ax.set_ylim(-15, 35)
ax.set_xticks(ticks)
ax.set_yticks(ticks)
ax.grid(True, axis="y", color="#d9d9d9", linewidth=1.6, zorder=0)
ax.set_axisbelow(True)

for side in ["top", "right"]:
	ax.spines[side].set_visible(False)
ax.spines["left"].set_position(("data", 0))
ax.spines["bottom"].set_position(("data", 0))
ax.spines["left"].set_linewidth(1.3)
ax.spines["bottom"].set_linewidth(1.3)
ax.spines["left"].set_zorder(2)
ax.spines["bottom"].set_zorder(2)

ax.tick_params(axis="x", direction="in", length=8, width=1.3, pad=24, labelsize=27, labelcolor="#595959")
ax.tick_params(axis="y", length=0, pad=27, labelsize=27, labelcolor="#595959")
for lab in ax.get_xticklabels() + ax.get_yticklabels():
	lab.set_zorder(5)

fig.text(1136 / W, 1 - 1276 / H, "EBV", ha="center", va="center", fontsize=31, fontweight="black", color="black")
fig.text(116 / W, 1 - 657 / H, "GEBV", ha="center", va="center", rotation=90, fontsize=35, fontweight="black", color="black")

handles = [
	Line2D([], [], linestyle="none", marker="o", markersize=11.5, markeredgewidth=0, color="#e8866a"),
	Line2D([], [], linestyle="none", marker="o", markersize=11.5, markeredgewidth=0, color="#00a67c"),
]
ax.legend(handles, ["offspring not genotyped", "offspring genotyped"], loc="lower left",
	bbox_to_anchor=(0.559, -0.037), frameon=False, fontsize=42.5, labelspacing=1.19, handlelength=1.0, handletextpad=0.94)

fig.savefig("out.png", dpi=100)
